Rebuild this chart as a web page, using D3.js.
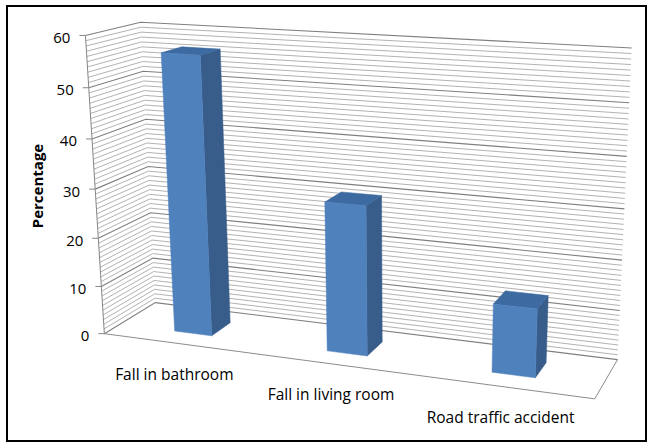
<!DOCTYPE html>
<html>
<head>
<meta charset="utf-8">
<script src="https://cdn.jsdelivr.net/npm/d3@7"></script>
<style>
  html, body { margin: 0; padding: 0; background: #fff; }
  text { font-family: "Open Sans", "DejaVu Sans", sans-serif; }
</style>
</head>
<body>
<svg id="chart" width="652" height="444"></svg>
<script>
// ---- data ----
const categories = ["Fall in bathroom", "Fall in living room", "Road traffic accident"];
const values = [56.5, 30, 13.5];
const yTicks = [0, 10, 20, 30, 40, 50, 60];
const yTitle = "Percentage";

// ---- layout: screen positions of the 3-D plot box corners ----
// world: x 0..1 across, h 0..1 up, z 0 (front) .. 1 (back)
const boxCorners = [
  [0, 0, 0, 101.7, 333.3],
  [0, 1, 0, 88, 35.7],
  [0, 0, 1, 158, 303],
  [0, 1, 1, 138, 22],
  [1, 0, 1, 617, 359.5],
  [1, 1, 1, 632, 48],
  [1, 0, 0, 595, 399]
];
const barDepth = [0.3, 0.7];

// Least-squares fit of a 3x4 perspective camera to the box corners
function fitCamera(pts) {
  const A = [], b = [];
  pts.forEach(([X, Y, Z, u, v]) => {
    A.push([X, Y, Z, 1, 0, 0, 0, 0, -u * X, -u * Y, -u * Z]); b.push(u);
    A.push([0, 0, 0, 0, X, Y, Z, 1, -v * X, -v * Y, -v * Z]); b.push(v);
  });
  const n = 11;
  const M = [];
  for (let i = 0; i < n; i++) {
    const row = new Array(n + 1).fill(0);
    for (let j = 0; j < n; j++) for (let k = 0; k < A.length; k++) row[j] += A[k][i] * A[k][j];
    for (let k = 0; k < A.length; k++) row[n] += A[k][i] * b[k];
    M.push(row);
  }
  for (let c = 0; c < n; c++) {
    let p = c;
    for (let r = c + 1; r < n; r++) if (Math.abs(M[r][c]) > Math.abs(M[p][c])) p = r;
    [M[c], M[p]] = [M[p], M[c]];
    for (let r = 0; r < n; r++) {
      if (r === c) continue;
      const f = M[r][c] / M[c][c];
      for (let k = c; k <= n; k++) M[r][k] -= f * M[c][k];
    }
  }
  return M.map((r, i) => r[n] / r[i]);
}
const P = fitCamera(boxCorners);
function project(x, h, z) {
  const w = P[8] * x + P[9] * h + P[10] * z + 1;
  return [(P[0] * x + P[1] * h + P[2] * z + P[3]) / w,
          (P[4] * x + P[5] * h + P[6] * z + P[7]) / w];
}

// ---- scales ----
const xBand = d3.scaleBand().domain(categories).range([0, 1]).paddingInner(0.75).paddingOuter(0.375);
const hScale = d3.scaleLinear().domain([0, 60]).range([0, 1]);

const svg = d3.select("#chart");
const line = d3.line();

// outer frame
svg.append("rect")
  .attr("x", 7).attr("y", 6).attr("width", 639).attr("height", 435)
  .attr("fill", "#fff").attr("stroke", "#000").attr("stroke-width", 2);

// gridlines (minor every 1, major every 10) on the side wall and back wall
const gridValues = d3.range(0, 61, 1);
const grid = svg.append("g").attr("fill", "none");
gridValues.forEach(v => {
  const h = hScale(v);
  const major = v % 10 === 0;
  const pts = [project(0, h, 0), project(0, h, 1), project(1, h, 1)];
  grid.append("path")
    .attr("d", line(pts))
    .attr("stroke", major ? "#7f7f7f" : "#a9a9a9")
    .attr("stroke-width", major ? 1.1 : 0.9);
});

// floor outline (front and right edges)
svg.append("path")
  .attr("d", line([project(0, 0, 0), project(1, 0, 0), project(1, 0, 1)]))
  .attr("fill", "none").attr("stroke", "#8c8c8c").attr("stroke-width", 1);

// value axis along the front edge of the side wall
const axis = svg.append("g");
axis.append("path")
  .attr("d", line([project(0, 0, 0), project(0, 1, 0)]))
  .attr("fill", "none").attr("stroke", "#868686").attr("stroke-width", 1);
yTicks.forEach(t => {
  const [px, py] = project(0, hScale(t), 0);
  axis.append("line")
    .attr("x1", px - 6).attr("x2", px).attr("y1", py).attr("y2", py)
    .attr("stroke", "#868686").attr("stroke-width", 1);
  axis.append("text")
    .attr("x", px - 15).attr("y", py + 1.5)
    .attr("text-anchor", "end").attr("dominant-baseline", "central")
    .attr("font-size", 15).attr("fill", "#000")
    .text(t);
});

// axis title
svg.append("text")
  .attr("transform", "translate(43,186) rotate(-90)")
  .attr("text-anchor", "middle")
  .attr("font-size", 15).attr("font-weight", "bold").attr("fill", "#000")
  .text(yTitle);

// 3-D columns
const bars = svg.append("g");
categories.forEach((c, i) => {
  const x0 = xBand(c), x1 = x0 + xBand.bandwidth();
  const h1 = hScale(values[i]);
  const [z0, z1] = barDepth;
  const face = (pts, fill) => bars.append("path")
    .attr("d", line(pts.map(p => project(...p))) + "Z")
    .attr("fill", fill).attr("stroke", fill).attr("stroke-width", 0.5).attr("stroke-linejoin", "round");
  face([[x1, 0, z0], [x1, 0, z1], [x1, h1, z1], [x1, h1, z0]], "#385d8a");
  face([[x0, h1, z0], [x1, h1, z0], [x1, h1, z1], [x0, h1, z1]], "#3d6aa0");
  face([[x0, 0, z0], [x1, 0, z0], [x1, h1, z0], [x0, h1, z0]], "#4f81bd");
});

// category labels
categories.forEach(c => {
  const [px, py] = project(xBand(c) + xBand.bandwidth() / 2, 0, 0);
  svg.append("text")
    .attr("x", px - 4).attr("y", py + 36)
    .attr("text-anchor", "middle")
    .attr("font-size", 15.5).attr("fill", "#000")
    .text(c);
});
</script>
</body>
</html>
